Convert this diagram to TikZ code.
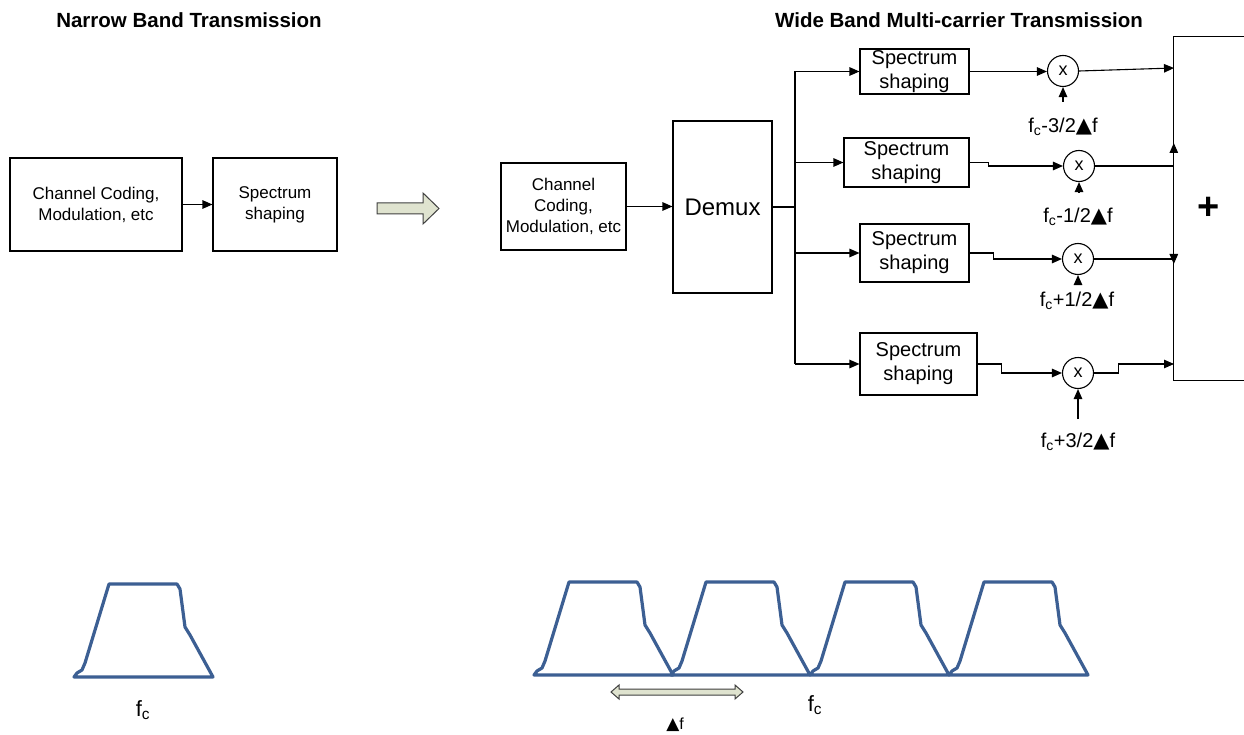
\documentclass[tikz,border=0pt]{standalone}
\usepackage{fontspec}
\setmainfont{Liberation Sans}
\newfontfamily\symfont{DejaVu Sans}
\usetikzlibrary{arrows.meta}

\definecolor{lobeblue}{HTML}{3C5F93}
\definecolor{arrowfill}{HTML}{DFE3CF}

% filled triangle used in the frequency labels
\newcommand\trisym[1][21]{{\symfont\fontsize{#1}{#1}\selectfont ▲}}

\tikzset{
  box/.style={draw, line width=1.1pt, rectangle, inner sep=0pt, align=center},
  txtsmall/.style={font=\fontsize{17}{21}\selectfont},
  txtmid/.style={font=\fontsize{20}{24}\selectfont},
  mult/.style={draw, circle, minimum size=31pt, inner sep=0pt, line width=1.1pt,
               font=\fontsize{18}{20}\selectfont},
  arr/.style={-{Triangle[length=10pt,width=8.5pt]}, line width=1.1pt},
  wire/.style={line width=1.1pt},
  title/.style={font=\bfseries\fontsize{20.5}{24}\selectfont},
  freq/.style={font=\fontsize{20}{24}\selectfont},
  lobeline/.style={draw=lobeblue, line width=3.2pt, line join=round, line cap=round},
  lobe/.pic={\draw[lobeline] (0,0) -- (3,-4) -- (8,-7) -- (11,-14) -- (35,-93)
      -- (103,-93) -- (106,-88) -- (111,-50) -- (116,-42) -- (139,0) -- cycle;},
}

\begin{document}
\begin{tikzpicture}[x=1pt, y=-1pt]
\useasboundingbox (0,0) rectangle (1244,735);
\fill[white] (0,0) rectangle (1244,735);

% ---- titles
\node[title] (t1) at (189,20) {Narrow Band Transmission};
\node[title] (t2) at (959,20) {Wide Band Multi-carrier Transmission};

% ---- narrow band chain
\node[box, txtsmall, minimum width=172pt, minimum height=93pt] (cc1) at (96,204.5)
  {Channel Coding,\\Modulation, etc};
\node[box, txtsmall, minimum width=124pt, minimum height=93pt] (ss0) at (275,204.5)
  {Spectrum\\shaping};
\draw[arr] (cc1) -- (ss0);

% ---- transition arrow
\filldraw[fill=arrowfill, draw=black!75, line width=1pt]
  (377,203) -- (423,203) -- (423,193) -- (439,208.5) -- (423,224) -- (423,214) -- (377,214) -- cycle;

% ---- wide band chain
\node[box, txtsmall, minimum width=125pt, minimum height=87pt] (cc2) at (563.5,206.5)
  {Channel\\Coding,\\Modulation, etc};
\node[box, font=\fontsize{24}{28}\selectfont, minimum width=99pt, minimum height=172pt] (demux)
  at (722.5,207) {Demux};
\draw[arr] (cc2.east) -- (cc2.east -| demux.west);

\node[box, txtmid, minimum width=109pt, minimum height=45pt] (ss1) at (914.5,71.5) {Spectrum\\shaping};
\node[box, txtmid, minimum width=125pt, minimum height=49pt] (ss2) at (906.5,162.5) {Spectrum\\shaping};
\node[box, txtmid, minimum width=109pt, minimum height=58pt] (ss3) at (914.5,253) {Spectrum\\shaping};
\node[box, txtmid, minimum width=117pt, minimum height=62pt] (ss4) at (918.5,364) {Spectrum\\shaping};

% demux fan-out bus
\coordinate (bus) at (795,207);
\draw[wire] (demux.east) -- (bus);
\draw[wire] (bus |- ss1.west) -- (bus |- ss4.west);
\foreach \i in {1,...,4} \draw[arr] (bus |- ss\i.west) -- (ss\i.west);

% ---- mixers
\node[mult] (m1) at (1063,71) {x};
\node[mult] (m2) at (1079,166) {x};
\node[mult] (m3) at (1078,259) {x};
\node[mult] (m4) at (1078,373) {x};

\draw[arr] (ss1.east) -- (ss1.east -| m1.west);
\draw[arr] (ss2.east) -- ++(19,0) |- (m2.west);
\draw[arr] (ss3.east) -- ++(24,0) |- (m3.west);
\draw[arr] (ss4.east) -- ++(24,0) |- (m4.west);

% carrier inputs
\node[freq] (l1) at (1063,127) {f\textsubscript{c}-3/2\trisym f};
\node[freq] (l2) at (1078,217) {f\textsubscript{c}-1/2\trisym f};
\node[freq] (l3) at (1077,301) {f\textsubscript{c}+1/2\trisym f};
\node[freq] (l4) at (1078,442) {f\textsubscript{c}+3/2\trisym f};
\coordinate (f1) at (1063,102);
\coordinate (f2) at (1079,193);
\coordinate (f3) at (1078,284);
\coordinate (f4) at (1078,419);
\foreach \i in {1,...,4} \draw[arr] (f\i) -- (m\i.south);

% ---- summing block (open to the right)
\node[minimum width=70pt, minimum height=343pt, inner sep=0pt,
      font=\bfseries\fontsize{38}{40}\selectfont] (sum) at (1209,208.5) {+};
\draw[wire] (sum.north east) -- (sum.north west) -- (sum.south west) -- (sum.south east);
\coordinate (in1) at (1174,68);
\coordinate (in4) at (1174,364);
\draw[arr] (m1.east) -- (in1);
\draw[arr] (m2.east) -- (m2.east -| sum.west) -- ++(0,-23);
\draw[arr] (m3.east) -- (m3.east -| sum.west) -- ++(0,5);
\draw[arr] (m4.east) -- ++(24,0) |- (in4);

% ---- spectra
\pic at (74,677) {lobe};
\foreach \x in {534,671,810,949} \pic at (\x,675) {lobe};

\node[font=\fontsize{22}{26}\selectfont] (fc1) at (143,710) {f\textsubscript{c}};
\node[font=\fontsize{22}{26}\selectfont] (fc2) at (815,705) {f\textsubscript{c}};

% carrier spacing
\filldraw[fill=arrowfill, draw=black!75, line width=1pt]
  (611,692) -- (619,685) -- (619,689) -- (735,689) -- (735,685) -- (743,692)
  -- (735,699) -- (735,695) -- (619,695) -- (619,699) -- cycle;
\node[font=\fontsize{16}{18}\selectfont, inner sep=0pt] (df) at (675,725) {\trisym[17]f};
\end{tikzpicture}
\end{document}
